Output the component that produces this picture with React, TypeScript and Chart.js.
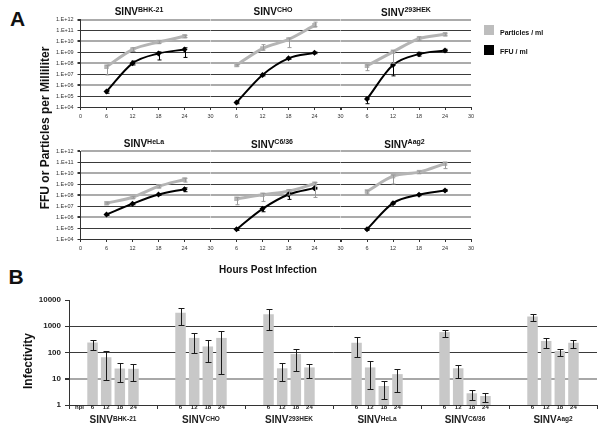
import React, { useEffect, useRef } from "react";
import { Chart, registerables } from "chart.js";

Chart.register(...registerables);

const FONT = '"Liberation Sans", Arial, Helvetica, sans-serif';
const NARROW = '"Liberation Sans Narrow", "Liberation Sans", Arial, sans-serif';

// ---------- shared labels ----------
const HOURS = [6, 12, 18, 24];
const HOUR_AXIS_TICKS = [0, 6, 12, 18, 24, 30];
const TITER_TICKS = [1e4, 1e5, 1e6, 1e7, 1e8, 1e9, 1e10, 1e11, 1e12];
const INFECTIVITY_TICKS = [1, 10, 100, 1000, 10000];
const STRAINS = ["BHK-21", "CHO", "293HEK", "HeLa", "C6/36", "Aag2"];
const HPI_LABELS = ["6", "12", "18", "24"];
const LEGEND_LABELS = ["Particles / ml", "FFU / ml"];

// ---------- Panel A: particles / ml and FFU / ml (value, low, high) ----------
const PART_BHK21 = [4.8e7, 1.8e9, 8.7e9, 2.9e10];
const PART_BHK21_LO = [8.5e6, 1.2e9, 6.5e9, 2.2e10];
const PART_BHK21_HI = [6.5e7, 2.6e9, 1.1e10, 3.6e10];
const FFU_BHK21 = [2.6e5, 9.8e7, 7.8e8, 1.8e9];
const FFU_BHK21_LO = [1.8e5, 7e7, 2e8, 3.4e8];
const FFU_BHK21_HI = [3.2e5, 1.6e8, 1.1e9, 2.6e9];

const PART_CHO = [6.8e7, 2.2e9, 1.5e10, 2.9e11];
const PART_CHO_LO = [5.5e7, 1.6e9, 2.7e9, 2.2e11];
const PART_CHO_HI = [8e7, 5e9, 2e10, 5.7e11];
const FFU_CHO = [2.6e4, 8.5e6, 2.8e8, 8.9e8];
const FFU_CHO_LO = [2e4, 7e6, 2.3e8, 7.5e8];
const FFU_CHO_HI = [3.3e4, 1e7, 3.3e8, 1.05e9];

const PART_293HEK = [5.9e7, 1.1e9, 1.8e10, 4.4e10];
const PART_293HEK_LO = [2.1e7, 1e8, 1.2e10, 3.2e10];
const PART_293HEK_HI = [7e7, 1.4e9, 2.6e10, 5.5e10];
const FFU_293HEK = [5.4e4, 6.8e7, 6.8e8, 1.5e9];
const FFU_293HEK_LO = [2e4, 7e6, 4.5e8, 1.1e9];
const FFU_293HEK_HI = [7e4, 1e8, 1e9, 1.9e9];

const PART_HELA = [1.8e7, 6.3e7, 6e8, 2.6e9];
const PART_HELA_LO = [1.5e7, 5e7, 4.5e8, 1.5e9];
const PART_HELA_HI = [2.2e7, 7.5e7, 7.5e8, 3.3e9];
const FFU_HELA = [1.7e6, 1.6e7, 1.1e8, 3.4e8];
const FFU_HELA_LO = [1.4e6, 1.3e7, 9e7, 2e8];
const FFU_HELA_HI = [2e6, 1.9e7, 1.3e8, 4.5e8];

const PART_C636 = [4.5e7, 1.05e8, 2.2e8, 1.05e9];
const PART_C636_LO = [1.3e7, 2.6e7, 1e8, 6e7];
const PART_C636_HI = [6e7, 1.4e8, 3e8, 1.4e9];
const FFU_C636 = [7.6e4, 5.5e6, 1.1e8, 4.2e8];
const FFU_C636_LO = [6e4, 3e6, 4e7, 3.5e8];
const FFU_C636_HI = [9e4, 7e6, 1.5e8, 5e8];

const PART_AAG2 = [2.1e8, 5.2e9, 1.2e10, 7.1e10];
const PART_AAG2_LO = [1.2e8, 1e9, 9e9, 2.5e10];
const PART_AAG2_HI = [2.5e8, 6.5e9, 1.5e10, 9e10];
const FFU_AAG2 = [7.6e4, 1.8e7, 1.05e8, 2.6e8];
const FFU_AAG2_LO = [6e4, 1.5e7, 8.5e7, 2.1e8];
const FFU_AAG2_HI = [9e4, 2.2e7, 1.25e8, 3.2e8];

// ---------- Panel B: infectivity per hpi across strains ----------
const INF_6H = [240, 3300, 2850, 235, 600, 2350];
const INF_6H_LO = [125, 1100, 750, 65, 400, 1520];
const INF_6H_HI = [300, 5000, 4550, 390, 750, 2950];
const INF_12H = [66, 360, 25, 27, 25, 275];
const INF_12H_LO = [9, 100, 8, 4, 11, 155];
const INF_12H_HI = [112, 560, 40, 46, 34, 345];
const INF_18H = [24.5, 170, 87, 5.3, 2.8, 115];
const INF_18H_LO = [7.4, 45, 19.5, 1.7, 1.6, 76];
const INF_18H_HI = [40, 290, 135, 8, 3.7, 135];
const INF_24H = [24, 360, 27, 15, 2.2, 235];
const INF_24H_LO = [8.3, 15, 11, 3, 1.35, 155];
const INF_24H_HI = [36, 640, 38, 24, 2.8, 295];

const PANEL_A = [
  { strain: STRAINS[0], part: [PART_BHK21, PART_BHK21_LO, PART_BHK21_HI], ffu: [FFU_BHK21, FFU_BHK21_LO, FFU_BHK21_HI] },
  { strain: STRAINS[1], part: [PART_CHO, PART_CHO_LO, PART_CHO_HI], ffu: [FFU_CHO, FFU_CHO_LO, FFU_CHO_HI] },
  { strain: STRAINS[2], part: [PART_293HEK, PART_293HEK_LO, PART_293HEK_HI], ffu: [FFU_293HEK, FFU_293HEK_LO, FFU_293HEK_HI] },
  { strain: STRAINS[3], part: [PART_HELA, PART_HELA_LO, PART_HELA_HI], ffu: [FFU_HELA, FFU_HELA_LO, FFU_HELA_HI] },
  { strain: STRAINS[4], part: [PART_C636, PART_C636_LO, PART_C636_HI], ffu: [FFU_C636, FFU_C636_LO, FFU_C636_HI] },
  { strain: STRAINS[5], part: [PART_AAG2, PART_AAG2_LO, PART_AAG2_HI], ffu: [FFU_AAG2, FFU_AAG2_LO, FFU_AAG2_HI] },
];

const INF_SERIES = [
  [INF_6H, INF_6H_LO, INF_6H_HI],
  [INF_12H, INF_12H_LO, INF_12H_HI],
  [INF_18H, INF_18H_LO, INF_18H_HI],
  [INF_24H, INF_24H_LO, INF_24H_HI],
];

// ---------- layout ----------
const A_COL_LEFT = [80.5, 210.5, 341];
const A_COL_W = 130;
const A_ROW_TOP = [19.5, 151];
const A_ROW_H = [87.5, 88];
const A_TITLE_POS = [
  [139, 12], [273, 12], [406, 12.5],
  [144, 144.3], [272, 144.5], [404.5, 144.5],
];

const GRAY_LINE = "#b4b4b4";
const DARK = "#333333";

function expLabel(v: number) {
  const e = Math.round(Math.log10(v));
  return "1.E+" + (e < 10 ? "0" + e : String(e));
}

function LinePlot({ idx }: { idx: number }) {
  const ref = useRef<HTMLCanvasElement>(null);
  const col = idx % 3;
  const row = Math.floor(idx / 3);
  const left = A_COL_LEFT[col];
  const top = A_ROW_TOP[row];
  const w = A_COL_W;
  const h = A_ROW_H[row];
  const first = col === 0;
  const cl = Math.floor(left) - 36;
  const ct = Math.floor(top) - 8;
  const cw = Math.ceil(left + w) + 10 - cl;
  const chh = Math.ceil(top + h) + 20 - ct;

  useEffect(() => {
    const p = PANEL_A[idx];
    const yW = first ? 26 : 0;
    const xH = 14;
    const errPlugin = {
      id: "errA" + idx,
      afterDatasetsDraw(chart: any) {
        const ctx = chart.ctx;
        const ys = chart.scales.y;
        const sets = [
          { lo: p.ffu[1], hi: p.ffu[2], color: "#000" },
          { lo: p.part[1], hi: p.part[2], color: "#9a9a9a" },
        ];
        sets.forEach((e, di) => {
          const meta = chart.getDatasetMeta(di);
          ctx.save();
          ctx.strokeStyle = e.color;
          ctx.lineWidth = 1;
          meta.data.forEach((pt: any, j: number) => {
            const x = Math.round(pt.x) + 0.5;
            const y1 = ys.getPixelForValue(e.lo[j]);
            const y2 = ys.getPixelForValue(e.hi[j]);
            ctx.beginPath();
            ctx.moveTo(x, y1);
            ctx.lineTo(x, y2);
            ctx.moveTo(x - 2, y1);
            ctx.lineTo(x + 2, y1);
            ctx.moveTo(x - 2, y2);
            ctx.lineTo(x + 2, y2);
            ctx.stroke();
          });
          ctx.restore();
        });
      },
    };
    const chart = new Chart(ref.current as HTMLCanvasElement, {
      type: "line",
      data: {
        datasets: [
          {
            label: LEGEND_LABELS[1],
            data: HOURS.map((x, i) => ({ x, y: p.ffu[0][i] })),
            borderColor: "#000",
            backgroundColor: "#000",
            borderWidth: 2,
            pointStyle: "rectRot",
            pointRadius: 3,
            pointBorderWidth: 0,
            pointBackgroundColor: "#000",
            cubicInterpolationMode: "monotone",
          },
          {
            label: LEGEND_LABELS[0],
            data: HOURS.map((x, i) => ({ x, y: p.part[0][i] })),
            borderColor: GRAY_LINE,
            backgroundColor: GRAY_LINE,
            borderWidth: 3,
            pointStyle: "rect",
            pointRadius: 3.2,
            pointBorderWidth: 0,
            pointBackgroundColor: GRAY_LINE,
            cubicInterpolationMode: "monotone",
          },
        ],
      },
      options: {
        animation: false,
        responsive: false,
        devicePixelRatio: 1,
        events: [],
        layout: {
          padding: {
            left: left - cl - yW,
            right: cl + cw - (left + w),
            top: top - ct,
            bottom: ct + chh - (top + h) - xH,
          },
        },
        plugins: { legend: { display: false }, tooltip: { enabled: false } },
        scales: {
          x: {
            type: "linear",
            min: 0,
            max: 30,
            afterBuildTicks: (s: any) => {
              s.ticks = HOUR_AXIS_TICKS.map((v) => ({ value: v }));
            },
            afterFit: (s: any) => {
              s.height = xH;
            },
            ticks: {
              autoSkip: false,
              maxRotation: 0,
              padding: 3,
              font: { family: NARROW, size: 5.5 },
              color: "#333",
              callback: (v: any) => (v === 0 && !first ? "" : String(v)),
            },
            grid: { drawOnChartArea: false, drawTicks: true, tickLength: 3, color: DARK },
            border: { display: true, color: DARK, width: 1 },
          },
          y: {
            type: "logarithmic",
            min: 1e4,
            max: 1e12,
            afterBuildTicks: (s: any) => {
              s.ticks = TITER_TICKS.map((v) => ({ value: v }));
            },
            afterFit: (s: any) => {
              s.width = yW;
            },
            ticks: {
              display: first,
              autoSkip: false,
              padding: 4,
              font: { family: NARROW, size: 5.5 },
              color: "#333",
              callback: (v: any) => expLabel(Number(v)),
            },
            grid: {
              drawTicks: first,
              tickLength: 3,
              tickColor: DARK,
              color: (c: any) => {
                const v = c.tick ? c.tick.value : 1e5;
                const e = Math.round(Math.log10(v));
                return e % 2 === 0 && e !== 4 ? "#ababab" : "#3a3a3a";
              },
              lineWidth: (c: any) => {
                const v = c.tick ? c.tick.value : 1e5;
                const e = Math.round(Math.log10(v));
                return e % 2 === 0 && e !== 4 ? 2 : 1;
              },
            },
            border: { display: first, color: DARK, width: 1 },
          },
        },
      } as any,
      plugins: [errPlugin],
    });
    return () => chart.destroy();
  }, []);

  return (
    <canvas
      ref={ref}
      width={cw}
      height={chh}
      style={{ position: "absolute", left: cl, top: ct, width: cw, height: chh }}
    />
  );
}

function BarPlot() {
  const ref = useRef<HTMLCanvasElement>(null);
  const cl = 30, ct = 290, cw = 575, chh = 142;
  const areaL = 69, areaR = 597, areaT = 300, areaB = 405;
  useEffect(() => {
    const yW = 30;
    const xH = 0;
    const plugin = {
      id: "barExtras",
      afterDatasetsDraw(chart: any) {
        const ctx = chart.ctx;
        const ys = chart.scales.y;
        ctx.save();
        ctx.strokeStyle = "#1a1a1a";
        ctx.lineWidth = 1;
        INF_SERIES.forEach((s, di) => {
          const meta = chart.getDatasetMeta(di);
          meta.data.forEach((bar: any, j: number) => {
            const x = Math.round(bar.x) + 0.5;
            const y1 = Math.round(ys.getPixelForValue(s[1][j])) + 0.5;
            const y2 = Math.round(ys.getPixelForValue(s[2][j])) + 0.5;
            ctx.beginPath();
            ctx.moveTo(x, y1);
            ctx.lineTo(x, y2);
            ctx.moveTo(x - 3, y1);
            ctx.lineTo(x + 3, y1);
            ctx.moveTo(x - 3, y2);
            ctx.lineTo(x + 3, y2);
            ctx.stroke();
          });
        });
        ctx.restore();
      },
      afterDraw(chart: any) {
        const ctx = chart.ctx;
        const xs = chart.scales.x;
        const area = chart.chartArea;
        ctx.save();
        ctx.fillStyle = "#222";
        ctx.textAlign = "center";
        ctx.textBaseline = "middle";
        ctx.font = `bold 6px ${FONT}`;
        INF_SERIES.forEach((_s, di) => {
          const meta = chart.getDatasetMeta(di);
          meta.data.forEach((bar: any) => {
            ctx.fillText(HPI_LABELS[di], bar.x, area.bottom + 2.5);
          });
        });
        const firstBar = chart.getDatasetMeta(0).data[0];
        ctx.fillText("hpi", firstBar.x - 13, area.bottom + 2.5);
        // group labels with superscripts
        const big = 10, small = 6.5;
        STRAINS.forEach((name, j) => {
          const cx = xs.getPixelForValue(j);
          ctx.font = `bold ${big}px ${FONT}`;
          const w1 = ctx.measureText("SINV").width;
          ctx.font = `bold ${small}px ${FONT}`;
          const w2 = ctx.measureText(name).width;
          const x0 = cx - (w1 + w2) / 2;
          const base = area.bottom + 18;
          ctx.textAlign = "left";
          ctx.textBaseline = "alphabetic";
          ctx.font = `bold ${big}px ${FONT}`;
          ctx.fillText("SINV", x0, base);
          ctx.font = `bold ${small}px ${FONT}`;
          ctx.fillText(name, x0 + w1, base - 2.5);
        });
        ctx.restore();
      },
    };
    const chart = new Chart(ref.current as HTMLCanvasElement, {
      type: "bar",
      data: {
        labels: STRAINS,
        datasets: INF_SERIES.map((s, di) => ({
          label: HPI_LABELS[di] + " hpi",
          data: s[0],
          backgroundColor: "#c8c8c8",
          borderWidth: 0,
          categoryPercentage: 0.62,
          barPercentage: 0.77,
        })),
      },
      options: {
        animation: false,
        responsive: false,
        devicePixelRatio: 1,
        events: [],
        layout: {
          padding: {
            left: areaL - cl - yW,
            right: cl + cw - areaR,
            top: areaT - ct,
            bottom: ct + chh - areaB - xH,
          },
        },
        plugins: { legend: { display: false }, tooltip: { enabled: false } },
        scales: {
          x: {
            type: "category",
            afterFit: (s: any) => {
              s.height = xH;
            },
            ticks: { display: false },
            grid: { offset: true, drawOnChartArea: false, drawTicks: true, tickLength: 4, color: DARK },
            border: { display: true, color: DARK, width: 1 },
          },
          y: {
            type: "logarithmic",
            min: 1,
            max: 10000,
            afterBuildTicks: (s: any) => {
              s.ticks = INFECTIVITY_TICKS.map((v) => ({ value: v }));
            },
            afterFit: (s: any) => {
              s.width = yW;
            },
            ticks: {
              autoSkip: false,
              padding: 4,
              font: { family: FONT, size: 8, weight: "bold" },
              color: "#222",
              callback: (v: any) => String(v),
            },
            grid: {
              drawTicks: true,
              tickLength: 4,
              tickColor: DARK,
              color: (c: any) => {
                const v = c.tick ? c.tick.value : 1;
                if (v === 10000) return "rgba(0,0,0,0)";
                if (v === 10) return "#a8a8a8";
                return "#3a3a3a";
              },
              lineWidth: (c: any) => {
                const v = c.tick ? c.tick.value : 1;
                return v === 10 ? 2 : 1;
              },
            },
            border: { display: true, color: DARK, width: 1 },
          },
        },
      } as any,
      plugins: [plugin],
    });
    return () => chart.destroy();
  }, []);
  return (
    <canvas
      ref={ref}
      width={cw}
      height={chh}
      style={{ position: "absolute", left: cl, top: ct, width: cw, height: chh }}
    />
  );
}

function Text({
  x, y, size, children, rotate = false, weight = "bold", align = "center",
}: any) {
  const tx = align === "center" ? "-50%" : "0";
  return (
    <div
      style={{
        position: "absolute",
        left: x,
        top: y,
        transform: `translate(${tx},-50%)` + (rotate ? " rotate(-90deg)" : ""),
        transformOrigin: align === "center" ? "center" : "left center",
        fontFamily: FONT,
        fontWeight: weight,
        fontSize: size,
        lineHeight: 1,
        whiteSpace: "nowrap",
        color: "#111",
      }}
    >
      {children}
    </div>
  );
}

function StrainTitle({ x, y, name }: { x: number; y: number; name: string }) {
  return (
    <Text x={x} y={y} size={10}>
      SINV
      <span style={{ fontSize: 7, position: "relative", top: -3.5 }}>{name}</span>
    </Text>
  );
}

export default function App() {
  useEffect(() => {
    document.body.style.margin = "0";
  }, []);
  return (
    <div
      style={{
        position: "absolute",
        left: 0,
        top: 0,
        width: 605,
        height: 432,
        background: "#fff",
        overflow: "hidden",
      }}
    >
      {PANEL_A.map((_p, i) => (
        <LinePlot key={i} idx={i} />
      ))}
      <BarPlot />
      {PANEL_A.map((p, i) => (
        <StrainTitle key={"t" + i} x={A_TITLE_POS[i][0]} y={A_TITLE_POS[i][1]} name={p.strain} />
      ))}
      <Text x={17.5} y={17.5} size={21}>A</Text>
      <Text x={16} y={276} size={21}>B</Text>
      <Text x={45} y={127.5} size={12} rotate>FFU or Particles per Milliliter</Text>
      <Text x={268} y={270} size={10}>Hours Post Infection</Text>
      <Text x={28} y={361} size={12} rotate>Infectivity</Text>
      <div style={{ position: "absolute", left: 484, top: 25, width: 10, height: 10, background: "#bdbdbd" }} />
      <div style={{ position: "absolute", left: 484, top: 45, width: 10, height: 10, background: "#000" }} />
      <Text x={500} y={31.5} size={7} align="left">{LEGEND_LABELS[0]}</Text>
      <Text x={500} y={50.5} size={7} align="left">{LEGEND_LABELS[1]}</Text>
    </div>
  );
}
